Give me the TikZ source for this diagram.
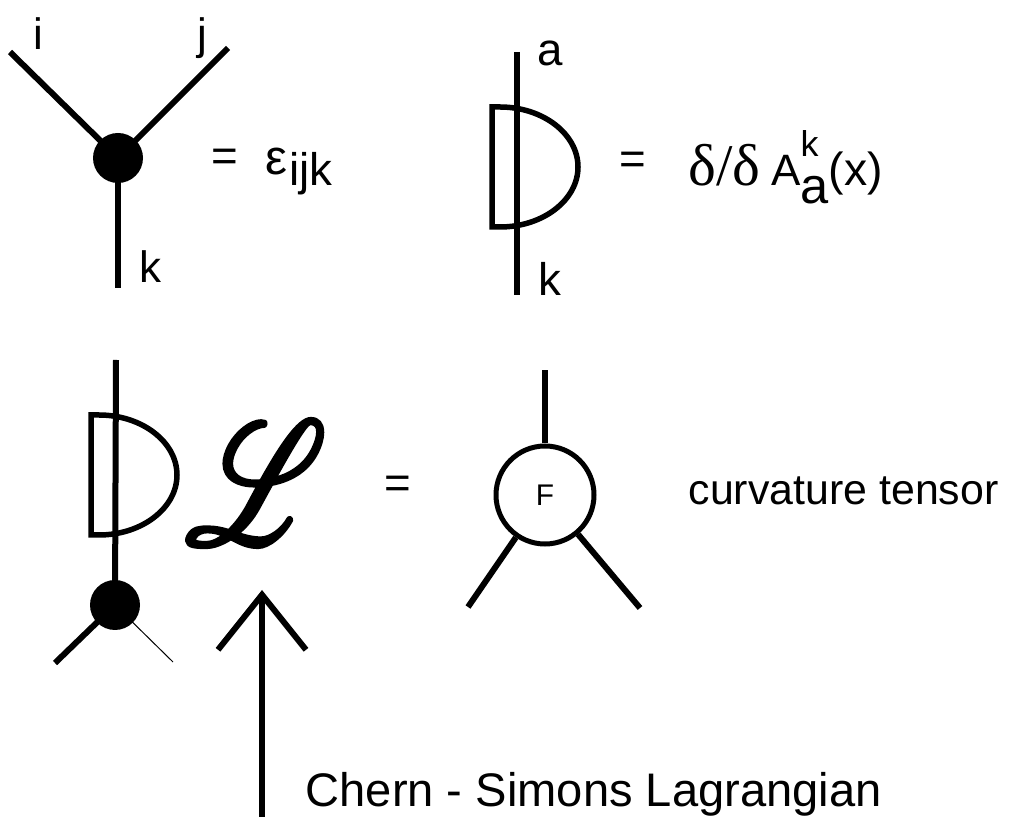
\documentclass[tikz,border=0pt]{standalone}
\usepackage{fontspec}
\setmainfont{Liberation Sans}
\newfontfamily\greekserif{Liberation Serif}
\usepackage{mathrsfs}
\usepackage{graphicx}
\usetikzlibrary{arrows.meta,positioning,calc}

% outline stroke for the script letter
\newcommand\strokeon{\special{pdf:literal direct 1 j 1 J 2 Tr 0.24 w}}
\newcommand\strokeoff{\special{pdf:literal direct 0 Tr}}

\tikzset{
  leg/.style={line width=0.6mm},
  thinleg/.style={line width=0.1mm},
  vertex/.style={circle, fill=black, minimum size=5mm, inner sep=0pt},
  fbox/.style={circle, draw, line width=0.5mm, fill=white, minimum size=9.8mm, inner sep=0pt},
  lbl/.style={inner sep=0pt, anchor=base west},
  dcap/.pic={
    \draw[line width=0.55mm, line join=miter] (-25,-60) -- (-17,-60)
      .. controls (26,-60) and (61,-33) .. (61,0)
      .. controls (61,33) and (26,60) .. (-17,60) -- (-25,60) -- cycle;
  }
}

\begin{document}
\begin{tikzpicture}[x=0.1mm, y=-0.1mm]
  \useasboundingbox (0,0) rectangle (1024,817);

  % epsilon vertex
  \node[vertex] (epsv) at (118,158) {};
  \coordinate (i end) at (10,52);
  \coordinate (j end) at (228,48);
  \coordinate (k end) at (118,288);
  \draw[leg] (i end) -- (epsv.center);
  \draw[leg] (j end) -- (epsv.center);
  \draw[leg] (k end) -- (epsv.center);
  \node[lbl, font=\fontsize{12.5}{14}\selectfont] (i) at (33,50) {i};
  \node[lbl, font=\fontsize{12.5}{14}\selectfont] (j) at (197,50) {j};
  \node[lbl, font=\fontsize{12.5}{14}\selectfont] (k) at (139,283) {k};
  \node[inner sep=0pt, font=\fontsize{13}{15}\selectfont] (eq1) at (225,160) {=};
  \node[lbl, font=\fontsize{13}{15}\selectfont] (eps) at (265,175)
    {{\fontsize{14}{16}\selectfont ε}\hspace{0.5pt}\raisebox{-3pt}{ijk}};

  % functional derivative
  \coordinate (a end) at (517,52);
  \coordinate (k2 end) at (517,295);
  \draw[leg] (a end) -- (k2 end);
  \pic at (517,167) {dcap};
  \node[lbl, font=\fontsize{13}{15}\selectfont] (a) at (537,66) {a};
  \node[lbl, font=\fontsize{13}{15}\selectfont] (k2) at (538,296) {k};
  \node[inner sep=0pt, font=\fontsize{13}{15}\selectfont] (eq2) at (633,163) {=};
  \node[lbl, font=\fontsize{13.2}{15}\selectfont] (dA) at (688,186)
    {{\greekserif\fontsize{16.8}{18}\selectfont δ/δ}\hspace{3pt}{\fontsize{12.5}{14}\selectfont A}\rlap{\raisebox{8.5pt}{\fontsize{10.2}{12}\selectfont k}}\raisebox{-5pt}{\fontsize{14.4}{16}\selectfont a}(x)};

  % derivative of the Lagrangian
  \coordinate (top end) at (116,360);
  \node[vertex] (cs) at (115,605) {};
  \coordinate (left end) at (55,663);
  \coordinate (right end) at (173,662);
  \draw[leg] (top end) -- (cs.center);
  \draw[leg] (left end) -- (cs.center);
  \draw[thinleg] (right end) -- (cs.center);
  \pic at (116,475) {dcap};
  \node[inner sep=0pt] (lagr) at (256,483)
    {\resizebox{14.2mm}{12.2mm}{\strokeon$\mathscr{L}$\strokeoff}};
  \node[inner sep=0pt, font=\fontsize{13}{15}\selectfont] (eq3) at (398,487) {=};

  % curvature
  \node[fbox, font=\fontsize{8.5}{10}\selectfont] (F) at (545,495) {F};
  \coordinate (F top) at (545,370);
  \coordinate (F left) at (468,607);
  \coordinate (F right) at (640,608);
  \draw[leg] (F) -- (F top);
  \draw[leg] (F) -- (F left);
  \draw[leg] (F) -- (F right);
  \node[lbl, font=\fontsize{12.2}{14}\selectfont] (curv) at (688,505) {curvature tensor};

  % arrow to the Lagrangian
  \coordinate (arrow foot) at (262,817);
  \coordinate (arrow tip) at (262,590);
  \draw[leg, -{Straight Barb[length=5.5mm, width=8.8mm]}] (arrow foot) -- (arrow tip);
  \node[lbl, font=\fontsize{13.4}{16}\selectfont] (cs label) at (305,806) {Chern - Simons Lagrangian};
\end{tikzpicture}
\end{document}
